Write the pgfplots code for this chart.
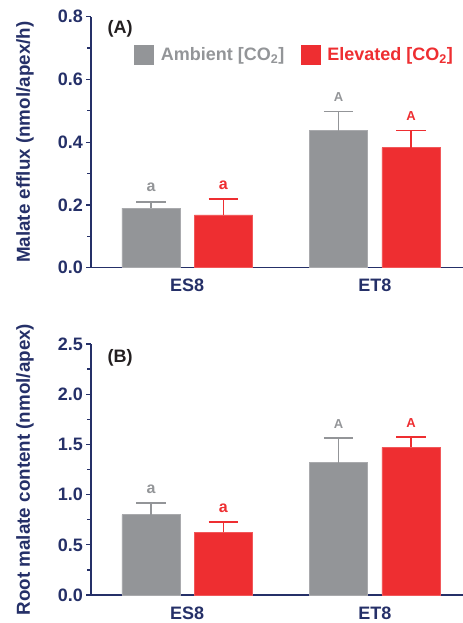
\documentclass[border=0pt]{standalone}
\usepackage{fontspec}
\setmainfont{Liberation Sans}
\usepackage{pgfplots}
\pgfplotsset{compat=1.18}

\definecolor{navy}{RGB}{37,48,104}
\definecolor{amb}{RGB}{147,149,152}
\definecolor{elev}{RGB}{238,46,49}
\definecolor{panel}{RGB}{35,31,32}

\newcommand{\bigfont}{\bfseries\fontsize{18bp}{21bp}\selectfont}
\newcommand{\labfont}{\bfseries\fontsize{18.8bp}{21bp}\selectfont}
\newcommand{\lowfont}{\bfseries\fontsize{16bp}{18bp}\selectfont}
\newcommand{\capfont}{\bfseries\fontsize{13bp}{15bp}\selectfont}

\pgfplotsset{
  malate/.style={
    scale only axis, width=372bp, height=251bp,
    axis x line*=bottom, axis y line*=left,
    axis line style={navy, line width=1.4bp},
    xmin=-0.513, xmax=1.47, ymin=0,
    xtick={0,1}, xticklabels={ES8,ET8},
    x tick style={draw=none},
    tick align=outside,
    y tick style={navy, line width=1.3bp},
    major tick length=4.5bp, minor tick length=3.5bp,
    minor y tick num=1,
    /pgf/number format/assume math mode=true,
    ticklabel style={font=\bigfont, text=navy},
    yticklabel style={/pgf/number format/.cd, fixed, fixed zerofill, precision=1},
    x tick label style={inner sep=0pt, anchor=north, yshift=-7bp},
    every axis y label/.style={at={(axis description cs:0,0.5)}, rotate=90,
      anchor=center, yshift=66bp, font=\labfont, text=navy},
    ybar, bar shift=0pt, bar width=0.31,
    clip=false,
  },
  ambbar/.style={fill=amb, draw=amb!80!white, line width=0.8bp,
    error bars/.cd, y dir=plus, y explicit,
    error bar style={amb, line width=1.7bp},
    error mark options={amb, rotate=90, mark size=14.85bp, line width=1.7bp},
    /pgfplots/.cd},
  elevbar/.style={fill=elev, draw=elev!80!white, line width=0.8bp,
    error bars/.cd, y dir=plus, y explicit,
    error bar style={elev, line width=1.7bp},
    error mark options={elev, rotate=90, mark size=14.85bp, line width=1.7bp},
    /pgfplots/.cd},
}

\begin{document}
\begin{tikzpicture}
\useasboundingbox (-91bp,-355.3bp) rectangle (372bp,267.7bp);

% (A) malate efflux
\begin{axis}[malate, at={(0,0)}, anchor=south west,
    ymax=0.8, ytick={0,0.2,...,0.8},
    ylabel={Malate efflux (nmol/apex/h)},
    legend columns=2,
    legend style={at={(axis description cs:0.1164,0.849)}, anchor=west,
      draw=none, fill=none, inner sep=0pt, outer sep=0pt,
      nodes={inner sep=0pt, font=\bigfont},
      /tikz/every odd column/.append style={column sep=6.7bp},
      /tikz/every even column/.append style={column sep=16.5bp}},
  ]
  \addplot[legend image code/.code={\fill[amb] (0bp,-9.5bp) rectangle (19bp,9.5bp);}, ambbar]
    coordinates {(-0.193,0.190) +- (0,0.020) (0.807,0.437) +- (0,0.061)};
  \addlegendentry{\textcolor{amb}{Ambient [CO\textsubscript{2}]}}
  \addplot[legend image code/.code={\fill[elev] (0bp,-9.5bp) rectangle (19bp,9.5bp);}, elevbar]
    coordinates {(0.193,0.168) +- (0,0.050) (1.193,0.383) +- (0,0.054)};
  \addlegendentry{\textcolor{elev}{Elevated [CO\textsubscript{2}]}}

  \node[font=\lowfont, text=amb, anchor=south, inner sep=0pt, yshift=9.5bp] at (axis cs:-0.193,0.210) {a};
  \node[font=\lowfont, text=elev, anchor=south, inner sep=0pt, yshift=9.5bp] at (axis cs:0.193,0.218) {a};
  \node[font=\capfont, text=amb, anchor=south, inner sep=0pt, yshift=9.5bp] at (axis cs:0.807,0.498) {A};
  \node[font=\capfont, text=elev, anchor=south, inner sep=0pt, yshift=9.5bp] at (axis cs:1.193,0.437) {A};
  \node[font=\bigfont, text=panel, anchor=center] at (axis description cs:0.078,0.951) {(A)};
\end{axis}

% (B) root malate content
\begin{axis}[malate, at={(0,-327.3bp)}, anchor=south west,
    ymax=2.5, ytick={0,0.5,...,2.5},
    ylabel={Root malate content (nmol/apex)},
  ]
  \addplot[ambbar]
    coordinates {(-0.193,0.800) +- (0,0.116) (0.807,1.318) +- (0,0.246)};
  \addplot[elevbar]
    coordinates {(0.193,0.624) +- (0,0.103) (1.193,1.471) +- (0,0.103)};

  \node[font=\lowfont, text=amb, anchor=south, inner sep=0pt, yshift=9.5bp] at (axis cs:-0.193,0.916) {a};
  \node[font=\lowfont, text=elev, anchor=south, inner sep=0pt, yshift=9.5bp] at (axis cs:0.193,0.727) {a};
  \node[font=\capfont, text=amb, anchor=south, inner sep=0pt, yshift=9.5bp] at (axis cs:0.807,1.564) {A};
  \node[font=\capfont, text=elev, anchor=south, inner sep=0pt, yshift=9.5bp] at (axis cs:1.193,1.574) {A};
  \node[font=\bigfont, text=panel, anchor=center] at (axis description cs:0.078,0.943) {(B)};
\end{axis}
\end{tikzpicture}
\end{document}
